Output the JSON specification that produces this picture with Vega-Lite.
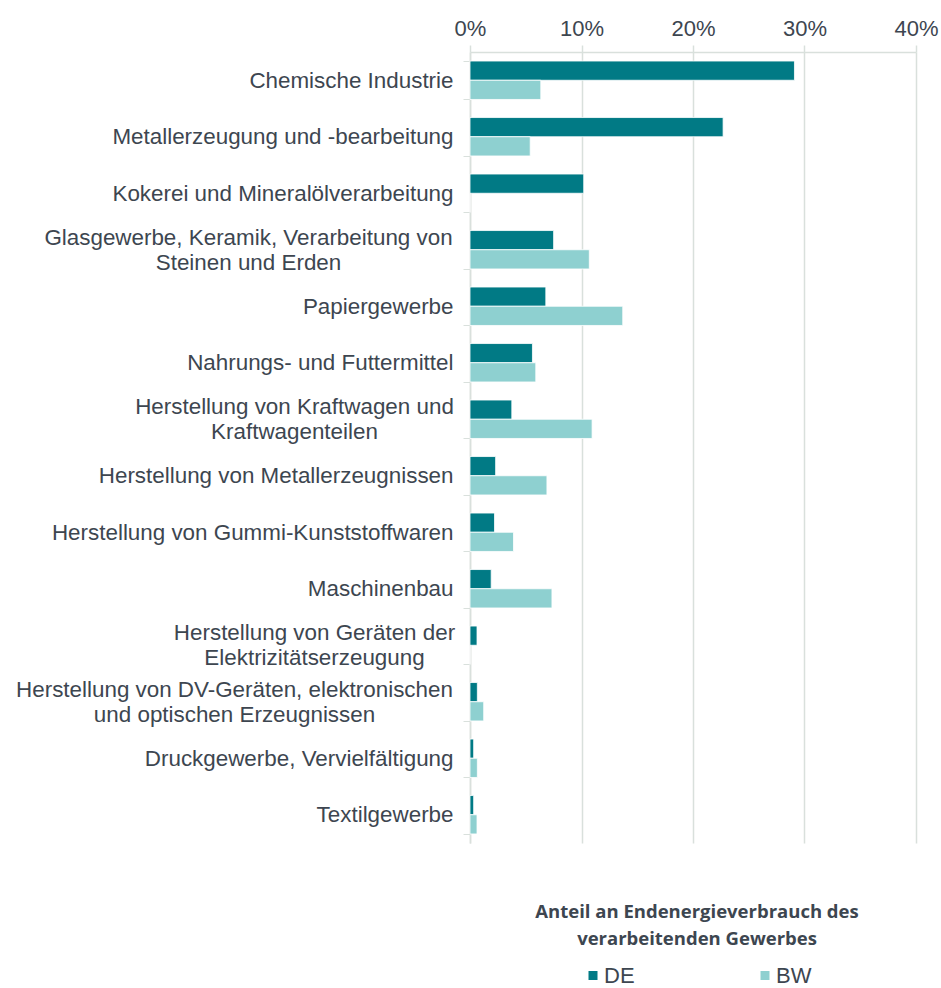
{
  "$schema": "https://vega.github.io/schema/vega-lite/v6.json",
  "width": 446,
  "height": 791,
  "autosize": {"type": "none"},
  "padding": {"left": 470, "top": 52, "right": 25, "bottom": 145},
  "background": "white",
  "config": {
    "view": {"stroke": null},
    "font": "Liberation Sans"
  },
  "data": {
    "values": [
      {"branche": "Chemische Industrie", "region": "DE", "anteil": 0.291},
      {"branche": "Chemische Industrie", "region": "BW", "anteil": 0.0635},
      {"branche": "Metallerzeugung und -bearbeitung", "region": "DE", "anteil": 0.227},
      {"branche": "Metallerzeugung und -bearbeitung", "region": "BW", "anteil": 0.054},
      {"branche": "Kokerei und Mineralölverarbeitung", "region": "DE", "anteil": 0.102},
      {"branche": "Kokerei und Mineralölverarbeitung", "region": "BW", "anteil": 0.0},
      {"branche": "Glasgewerbe, Keramik, Verarbeitung von Steinen und Erden", "region": "DE", "anteil": 0.075},
      {"branche": "Glasgewerbe, Keramik, Verarbeitung von Steinen und Erden", "region": "BW", "anteil": 0.107},
      {"branche": "Papiergewerbe", "region": "DE", "anteil": 0.068},
      {"branche": "Papiergewerbe", "region": "BW", "anteil": 0.137},
      {"branche": "Nahrungs- und Futtermittel", "region": "DE", "anteil": 0.056},
      {"branche": "Nahrungs- und Futtermittel", "region": "BW", "anteil": 0.059},
      {"branche": "Herstellung von Kraftwagen und Kraftwagenteilen", "region": "DE", "anteil": 0.0375},
      {"branche": "Herstellung von Kraftwagen und Kraftwagenteilen", "region": "BW", "anteil": 0.1095},
      {"branche": "Herstellung von Metallerzeugnissen", "region": "DE", "anteil": 0.023},
      {"branche": "Herstellung von Metallerzeugnissen", "region": "BW", "anteil": 0.069},
      {"branche": "Herstellung von Gummi-Kunststoffwaren", "region": "DE", "anteil": 0.022},
      {"branche": "Herstellung von Gummi-Kunststoffwaren", "region": "BW", "anteil": 0.039},
      {"branche": "Maschinenbau", "region": "DE", "anteil": 0.019},
      {"branche": "Maschinenbau", "region": "BW", "anteil": 0.0735},
      {"branche": "Herstellung von Geräten der Elektrizitätserzeugung", "region": "DE", "anteil": 0.0063},
      {"branche": "Herstellung von Geräten der Elektrizitätserzeugung", "region": "BW", "anteil": 0.0},
      {"branche": "Herstellung von DV-Geräten, elektronischen und optischen Erzeugnissen", "region": "DE", "anteil": 0.0066},
      {"branche": "Herstellung von DV-Geräten, elektronischen und optischen Erzeugnissen", "region": "BW", "anteil": 0.0123},
      {"branche": "Druckgewerbe, Vervielfältigung", "region": "DE", "anteil": 0.0033},
      {"branche": "Druckgewerbe, Vervielfältigung", "region": "BW", "anteil": 0.0066},
      {"branche": "Textilgewerbe", "region": "DE", "anteil": 0.0033},
      {"branche": "Textilgewerbe", "region": "BW", "anteil": 0.0063}
    ]
  },
  "mark": {"type": "bar", "stroke": "white", "strokeWidth": 0.8},
  "encoding": {
    "y": {
      "field": "branche",
      "type": "nominal",
      "sort": null,
      "scale": {"paddingInner": 0.32, "paddingOuter": 0.16},
      "axis": {
        "title": null,
        "orient": "left",
        "tickBand": "extent",
        "tickSize": 7,
        "tickColor": "#d9e0dc",
        "domainColor": "#d9e0dc",
        "domainWidth": 1.5,
        "labelFont": "Liberation Sans",
        "labelFontSize": 22.4,
        "labelColor": "#3d4650",
        "labelLimit": 500,
        "labelLineHeight": 25,
        "labelExpr": "split(replace(replace(replace(replace(datum.label, 'von Steinen', 'von|Steinen'), 'und Kraftwagenteilen', 'und|Kraftwagenteilen'), 'der Elektrizitätserzeugung', 'der|Elektrizitätserzeugung'), 'elektronischen und', 'elektronischen|und'), '|')",
        "labelAlign": {
          "condition": {"test": "indexof(['Glasgewerbe, Keramik, Verarbeitung von Steinen und Erden','Herstellung von Kraftwagen und Kraftwagenteilen','Herstellung von Geräten der Elektrizitätserzeugung','Herstellung von DV-Geräten, elektronischen und optischen Erzeugnissen'], datum.value) >= 0", "value": "center"},
          "value": "right"
        },
        "labelOffset": {
          "condition": {"test": "indexof(['Glasgewerbe, Keramik, Verarbeitung von Steinen und Erden','Herstellung von Kraftwagen und Kraftwagenteilen','Herstellung von Geräten der Elektrizitätserzeugung','Herstellung von DV-Geräten, elektronischen und optischen Erzeugnissen'], datum.value) >= 0", "value": -12.5},
          "value": 0
        },
        "labelPadding": {
          "condition": [
            {"test": "datum.value == 'Glasgewerbe, Keramik, Verarbeitung von Steinen und Erden'", "value": 215},
            {"test": "datum.value == 'Herstellung von Kraftwagen und Kraftwagenteilen'", "value": 169},
            {"test": "datum.value == 'Herstellung von Geräten der Elektrizitätserzeugung'", "value": 149},
            {"test": "datum.value == 'Herstellung von DV-Geräten, elektronischen und optischen Erzeugnissen'", "value": 229}
          ],
          "value": 10
        }
      }
    },
    "yOffset": {
      "field": "region",
      "type": "nominal",
      "sort": ["DE", "BW"],
      "scale": {"paddingInner": 0, "paddingOuter": 0}
    },
    "x": {
      "field": "anteil",
      "type": "quantitative",
      "scale": {"domain": [0, 0.4], "nice": false},
      "axis": {
        "title": null,
        "orient": "top",
        "values": [0, 0.1, 0.2, 0.3, 0.4],
        "format": ".0%",
        "grid": true,
        "gridColor": "#d9e0dc",
        "gridWidth": 1.5,
        "domainColor": "#d9e0dc",
        "domainWidth": 1.5,
        "tickColor": "#d9e0dc",
        "tickWidth": 1.5,
        "tickSize": 7,
        "labelPadding": 5,
        "labelFlush": false,
        "labelFont": "Liberation Sans",
        "labelFontSize": 22,
        "labelColor": "#3d4650"
      }
    },
    "color": {
      "field": "region",
      "type": "nominal",
      "sort": ["DE", "BW"],
      "scale": {"domain": ["DE", "BW"], "range": ["#017a85", "#8ed0d0"]},
      "legend": {
        "orient": "none",
        "legendX": 65,
        "legendY": 851,
        "direction": "horizontal",
        "columns": 2,
        "columnPadding": 119,
        "title": ["Anteil an Endenergieverbrauch des", "verarbeitenden Gewerbes"],
        "titleFont": "Open Sans",
        "titleFontWeight": "bold",
        "titleFontSize": 18.5,
        "titleColor": "#3d4650",
        "titleLineHeight": 27,
        "titleLimit": 600,
        "titleAnchor": "middle",
        "titleAlign": "center",
        "titlePadding": 16,
        "symbolType": "square",
        "symbolSize": 81,
        "symbolStrokeWidth": 0,
        "labelOffset": 0,
        "labelFont": "Liberation Sans",
        "labelFontSize": 22,
        "labelColor": "#3d4650"
      }
    }
  }
}
